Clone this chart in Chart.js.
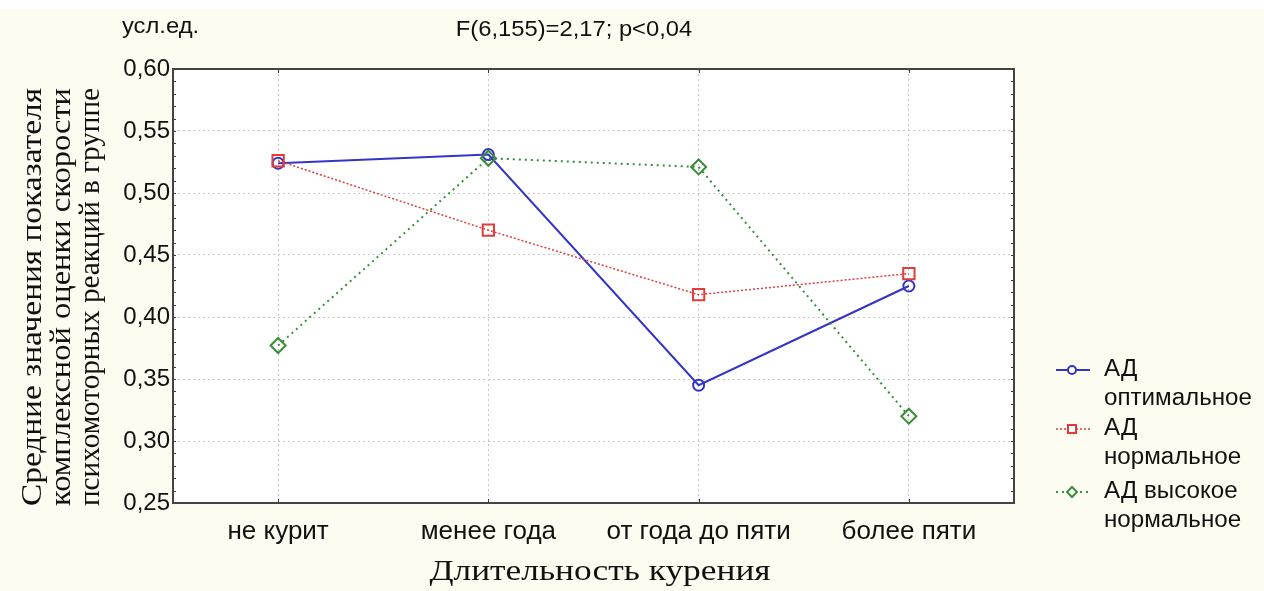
<!DOCTYPE html>
<html lang="ru">
<head>
<meta charset="utf-8">
<title>Длительность курения</title>
<script src="https://cdn.jsdelivr.net/npm/chart.js@4.4.1/dist/chart.umd.min.js"></script>
<style>
  html, body { margin: 0; padding: 0; background: #fdfcf0; }
  #wrap { position: relative; width: 1264px; height: 591px; }
  canvas { display: block; }
</style>
</head>
<body>
<div id="wrap"><canvas id="c" width="1264" height="591"></canvas></div>
<script>
// Smoking duration groups
const categories = ['не курит', 'менее года', 'от года до пяти', 'более пяти'];

// Mean composite score of psychomotor reaction speed, by blood pressure group
const adOptimal = [0.524, 0.531, 0.345, 0.425];
const adNormal = [0.526, 0.470, 0.418, 0.435];
const adHighNormal = [0.377, 0.528, 0.521, 0.320];

const seriesNames = [
  ['АД', 'оптимальное'],
  ['АД', 'нормальное'],
  ['АД высокое', 'нормальное']
];

const yTicks = [0.25, 0.30, 0.35, 0.40, 0.45, 0.50, 0.55, 0.60];

const yTitleLines = [
  'Средние значения показателя',
  'комплексной оценки скорости',
  'психомоторных реакций в группе'
];
const xTitle = 'Длительность курения';
const unitLabel = 'усл.ед.';
const statLabel = 'F(6,155)=2,17; p<0,04';

const SANS = '"Liberation Sans", Arial, sans-serif';
const SERIF = '"Liberation Serif", "Times New Roman", serif';

const fmt = v => v.toFixed(2).replace('.', ',');

// Text drawn with a horizontal stretch factor (along the writing direction)
function stretchedText(ctx, text, x, y, sx) {
  ctx.save();
  ctx.translate(x, y);
  ctx.scale(sx, 1);
  ctx.fillText(text, 0, 0);
  ctx.restore();
}

// Page background, white plot area, frame with inner ticks
const framePlugin = {
  id: 'frame',
  beforeDraw(chart) {
    const { ctx, chartArea: a } = chart;
    ctx.save();
    ctx.fillStyle = '#fdfcf0';
    ctx.fillRect(0, 0, chart.width, chart.height);
    ctx.fillStyle = '#ffffff';
    ctx.fillRect(0, 0, chart.width, 9);
    ctx.fillRect(a.left, a.top, a.right - a.left, a.bottom - a.top);
    ctx.restore();
  },
  afterDraw(chart) {
    const { ctx, chartArea: a, scales: { x, y } } = chart;
    ctx.save();
    ctx.strokeStyle = '#3c3c3c';
    ctx.lineWidth = 1;
    // minor ticks on left and right sides
    for (let k = 25; k <= 60; k++) {
      const py = Math.round(y.getPixelForValue(k / 100)) + 0.5;
      ctx.beginPath();
      ctx.moveTo(a.left, py); ctx.lineTo(a.left + 3, py);
      ctx.moveTo(a.right, py); ctx.lineTo(a.right - 3, py);
      ctx.stroke();
    }
    // category ticks on top and bottom
    categories.forEach((c, i) => {
      const px = Math.round(x.getPixelForValue(i)) + 0.5;
      ctx.beginPath();
      ctx.moveTo(px, a.top); ctx.lineTo(px, a.top + 4);
      ctx.moveTo(px, a.bottom); ctx.lineTo(px, a.bottom - 4);
      ctx.stroke();
    });
    ctx.lineWidth = 2;
    ctx.strokeStyle = '#444444';
    ctx.strokeRect(a.left, a.top, a.right - a.left, a.bottom - a.top);
    ctx.restore();
  }
};

// Axis titles and header texts
const textPlugin = {
  id: 'texts',
  afterDraw(chart) {
    const { ctx } = chart;
    ctx.save();
    ctx.fillStyle = '#111111';
    ctx.textBaseline = 'middle';
    ctx.textAlign = 'left';
    ctx.font = '22px ' + SANS;
    stretchedText(ctx, unitLabel, 122, 27, 1.08);
    ctx.textAlign = 'center';
    stretchedText(ctx, statLabel, 574, 30, 1.08);

    ctx.font = '29px ' + SERIF;
    stretchedText(ctx, xTitle, 600, 572, 1.22);

    // rotated y title, each line fitted to the same length
    const lineLen = 418;
    ctx.translate(0, 297);
    ctx.rotate(-Math.PI / 2);
    yTitleLines.forEach((t, i) => {
      const w = ctx.measureText(t).width;
      stretchedText(ctx, t, 0, 33 + i * 29, lineLen / w);
    });
    ctx.restore();
  }
};

function drawMarker(ctx, style, x, y, r, color) {
  ctx.save();
  ctx.strokeStyle = color;
  ctx.fillStyle = '#ffffff';
  ctx.lineWidth = 2;
  ctx.setLineDash([]);
  ctx.beginPath();
  if (style === 'circle') {
    ctx.arc(x, y, r, 0, Math.PI * 2);
  } else if (style === 'rect') {
    ctx.rect(x - r, y - r, 2 * r, 2 * r);
  } else {
    ctx.moveTo(x, y - r); ctx.lineTo(x + r, y); ctx.lineTo(x, y + r); ctx.lineTo(x - r, y); ctx.closePath();
  }
  ctx.fill();
  ctx.stroke();
  ctx.restore();
}

// Legend with two-line entries
const legendPlugin = {
  id: 'legend2',
  afterDraw(chart) {
    const { ctx } = chart;
    const rows = [370, 429, 492];
    ctx.save();
    ctx.font = '23px ' + SANS;
    ctx.fillStyle = '#111111';
    ctx.textBaseline = 'middle';
    ctx.textAlign = 'left';
    chart.data.datasets.forEach((ds, i) => {
      const y0 = rows[i];
      ctx.save();
      ctx.strokeStyle = ds.borderColor;
      ctx.lineWidth = ds.borderWidth;
      ctx.setLineDash(ds.borderDash || []);
      ctx.beginPath();
      ctx.moveTo(1056, y0); ctx.lineTo(1090, y0);
      ctx.stroke();
      ctx.restore();
      drawMarker(ctx, ds.pointStyle, 1072, y0, ds.legendR, ds.borderColor);
      seriesNames[i].forEach((t, j) => stretchedText(ctx, t, 1104, y0 + j * 29, 1.05));
    });
    ctx.restore();
  }
};

const ctx = document.getElementById('c').getContext('2d');
new Chart(ctx, {
  type: 'line',
  data: {
    labels: categories,
    datasets: [
      {
        label: seriesNames[0].join(' '),
        data: adOptimal,
        borderColor: '#3434c8',
        borderWidth: 2,
        pointStyle: 'circle',
        pointRadius: 5.5,
        legendR: 4,
        pointBorderWidth: 2,
        pointBackgroundColor: 'rgba(255,255,255,0)',
        order: 3
      },
      {
        label: seriesNames[1].join(' '),
        data: adNormal,
        borderColor: '#e03c3c',
        borderWidth: 1.5,
        borderDash: [2, 2],
        pointStyle: 'rect',
        pointRadius: 8,
        legendR: 4,
        pointBorderWidth: 2,
        pointBackgroundColor: 'rgba(255,255,255,0)',
        order: 1
      },
      {
        label: seriesNames[2].join(' '),
        data: adHighNormal,
        borderColor: '#3a8c3a',
        borderWidth: 2,
        borderDash: [2, 4],
        pointStyle: 'rectRot',
        pointRadius: 7.5,
        legendR: 5,
        pointBorderWidth: 2,
        pointBackgroundColor: 'rgba(255,255,255,0)',
        order: 2
      }
    ]
  },
  options: {
    responsive: false,
    animation: false,
    events: [],
    layout: { padding: { left: 0, right: 250, top: 69, bottom: 0 } },
    plugins: { legend: { display: false }, title: { display: false }, tooltip: { enabled: false } },
    elements: { line: { tension: 0 } },
    scales: {
      x: {
        type: 'category',
        offset: true,
        grid: { offset: false, color: '#c8c8c8', lineWidth: 1, drawTicks: false },
        border: { display: false, dash: [2, 3] },
        ticks: { color: '#111111', font: { family: SANS, size: 26 }, padding: 13, maxRotation: 0 },
        afterFit(scale) { scale.height = 88; }
      },
      y: {
        min: 0.25,
        max: 0.60,
        afterBuildTicks(scale) { scale.ticks = yTicks.map(v => ({ value: v })); },
        grid: { color: '#c8c8c8', lineWidth: 1, drawTicks: false },
        border: { display: false, dash: [2, 3] },
        ticks: { color: '#111111', font: { family: SANS, size: 24 }, padding: 3, callback: v => fmt(v) },
        afterFit(scale) { scale.width = 173; }
      }
    }
  },
  plugins: [framePlugin, textPlugin, legendPlugin]
});
</script>
</body>
</html>
